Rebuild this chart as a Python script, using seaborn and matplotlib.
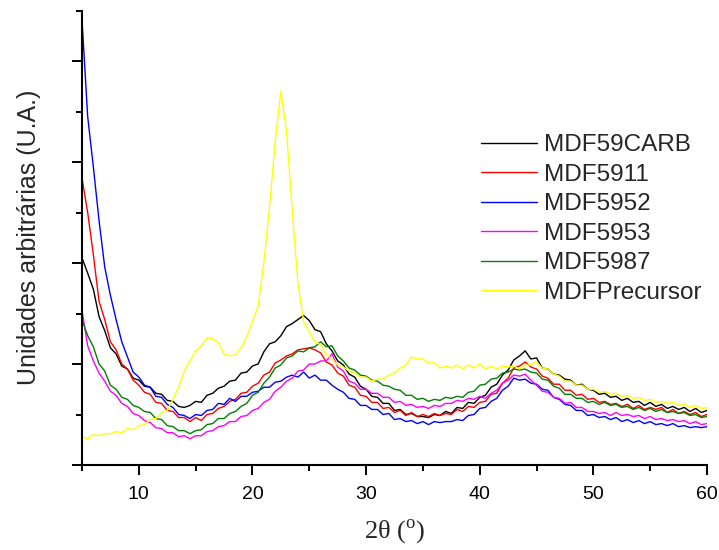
import numpy as np
import pandas as pd
import matplotlib
matplotlib.use("Agg")
import matplotlib.pyplot as plt
import seaborn as sns
from matplotlib.ticker import MultipleLocator, NullFormatter

# ---- data (0.5 degree sampling) ----
two_theta = np.arange(5.0, 60.01, 0.5)

mdf59carb = [2.05, 1.90, 1.74, 1.47, 1.33, 1.16, 1.10, 0.98, 0.95, 0.86,
             0.84, 0.78, 0.77, 0.71, 0.70, 0.64, 0.63, 0.58, 0.57, 0.59,
             0.63, 0.62, 0.69, 0.71, 0.76, 0.78, 0.83, 0.84, 0.91, 0.92,
             0.98, 1.00, 1.12, 1.20, 1.22, 1.28, 1.37, 1.40, 1.44, 1.48,
             1.43, 1.34, 1.32, 1.20, 1.13, 1.03, 0.99, 0.90, 0.87, 0.78,
             0.75, 0.68, 0.67, 0.61, 0.61, 0.54, 0.55, 0.50, 0.51, 0.48,
             0.48, 0.47, 0.50, 0.49, 0.53, 0.51, 0.57, 0.56, 0.62, 0.61,
             0.67, 0.69, 0.77, 0.80, 0.89, 0.94, 1.04, 1.08, 1.13, 1.05,
             1.06, 0.96, 0.95, 0.90, 0.89, 0.85, 0.84, 0.79, 0.80, 0.75,
             0.74, 0.70, 0.71, 0.67, 0.68, 0.64, 0.66, 0.62, 0.63, 0.59,
             0.62, 0.58, 0.60, 0.56, 0.58, 0.55, 0.57, 0.53, 0.56, 0.52,
             0.54]

mdf5911 = [2.84, 2.50, 2.08, 1.62, 1.44, 1.22, 1.14, 1.00, 0.95, 0.84,
           0.79, 0.72, 0.70, 0.62, 0.61, 0.54, 0.53, 0.47, 0.47, 0.43,
           0.47, 0.44, 0.50, 0.51, 0.56, 0.58, 0.63, 0.65, 0.71, 0.72,
           0.78, 0.81, 0.89, 0.92, 1.01, 1.04, 1.08, 1.10, 1.14, 1.15,
           1.16, 1.14, 1.11, 1.02, 0.99, 0.91, 0.88, 0.79, 0.77, 0.69,
           0.68, 0.62, 0.62, 0.56, 0.57, 0.52, 0.54, 0.49, 0.52, 0.48,
           0.50, 0.48, 0.51, 0.49, 0.51, 0.50, 0.55, 0.53, 0.58, 0.57,
           0.62, 0.63, 0.70, 0.71, 0.81, 0.86, 0.96, 0.98, 1.02, 0.97,
           0.95, 0.88, 0.86, 0.80, 0.80, 0.74, 0.74, 0.69, 0.70, 0.65,
           0.66, 0.62, 0.63, 0.60, 0.61, 0.58, 0.60, 0.56, 0.59, 0.55,
           0.57, 0.55, 0.57, 0.52, 0.55, 0.51, 0.53, 0.50, 0.52, 0.48,
           0.50]

mdf5952 = [4.41, 3.45, 2.95, 2.42, 1.96, 1.68, 1.44, 1.22, 1.07, 0.92,
           0.87, 0.79, 0.77, 0.68, 0.67, 0.60, 0.57, 0.50, 0.49, 0.46,
           0.50, 0.49, 0.54, 0.55, 0.61, 0.60, 0.66, 0.63, 0.68, 0.68,
           0.72, 0.73, 0.77, 0.77, 0.82, 0.83, 0.87, 0.89, 0.87, 0.92,
           0.86, 0.89, 0.84, 0.84, 0.79, 0.75, 0.72, 0.66, 0.65, 0.59,
           0.59, 0.55, 0.55, 0.50, 0.51, 0.45, 0.46, 0.43, 0.44, 0.41,
           0.43, 0.40, 0.43, 0.42, 0.43, 0.43, 0.45, 0.44, 0.49, 0.50,
           0.56, 0.57, 0.63, 0.66, 0.74, 0.78, 0.86, 0.84, 0.85, 0.81,
           0.80, 0.75, 0.74, 0.67, 0.65, 0.60, 0.59, 0.54, 0.54, 0.49,
           0.50, 0.47, 0.48, 0.45, 0.47, 0.43, 0.45, 0.42, 0.44, 0.41,
           0.43, 0.40, 0.41, 0.39, 0.41, 0.38, 0.39, 0.37, 0.38, 0.37,
           0.38]

mdf5953 = [1.53, 1.18, 1.03, 0.91, 0.83, 0.73, 0.69, 0.61, 0.58, 0.51,
           0.49, 0.44, 0.42, 0.37, 0.36, 0.32, 0.32, 0.28, 0.29, 0.26,
           0.29, 0.29, 0.33, 0.34, 0.38, 0.39, 0.43, 0.43, 0.48, 0.49,
           0.54, 0.56, 0.62, 0.65, 0.73, 0.77, 0.83, 0.86, 0.93, 0.94,
           1.00, 1.00, 1.03, 1.03, 1.10, 0.97, 0.93, 0.83, 0.81, 0.75,
           0.75, 0.71, 0.71, 0.67, 0.67, 0.62, 0.63, 0.59, 0.60, 0.57,
           0.58, 0.56, 0.59, 0.58, 0.61, 0.61, 0.64, 0.63, 0.66, 0.65,
           0.68, 0.66, 0.71, 0.74, 0.81, 0.84, 0.89, 0.88, 0.90, 0.84,
           0.79, 0.73, 0.72, 0.67, 0.66, 0.61, 0.62, 0.57, 0.57, 0.53,
           0.53, 0.51, 0.52, 0.49, 0.52, 0.49, 0.50, 0.48, 0.49, 0.46,
           0.48, 0.45, 0.46, 0.44, 0.45, 0.43, 0.44, 0.41, 0.43, 0.40,
           0.41]

mdf5987 = [1.44, 1.28, 1.17, 1.00, 0.93, 0.79, 0.75, 0.67, 0.65, 0.59,
           0.57, 0.53, 0.52, 0.46, 0.45, 0.39, 0.38, 0.34, 0.34, 0.31,
           0.34, 0.35, 0.40, 0.41, 0.46, 0.46, 0.51, 0.53, 0.58, 0.61,
           0.69, 0.72, 0.81, 0.87, 0.96, 0.99, 1.06, 1.08, 1.13, 1.12,
           1.16, 1.17, 1.22, 1.17, 1.18, 1.08, 1.03, 0.96, 0.94, 0.89,
           0.88, 0.84, 0.83, 0.79, 0.78, 0.75, 0.74, 0.69, 0.69, 0.65,
           0.66, 0.63, 0.65, 0.64, 0.67, 0.66, 0.68, 0.67, 0.72, 0.73,
           0.79, 0.80, 0.85, 0.86, 0.91, 0.92, 0.95, 0.94, 0.95, 0.92,
           0.91, 0.85, 0.84, 0.78, 0.76, 0.70, 0.70, 0.66, 0.66, 0.62,
           0.63, 0.60, 0.62, 0.59, 0.60, 0.57, 0.58, 0.55, 0.57, 0.54,
           0.56, 0.53, 0.55, 0.52, 0.53, 0.51, 0.52, 0.49, 0.50, 0.47,
           0.48]

mdf_precursor = [0.28, 0.26, 0.30, 0.29, 0.31, 0.31, 0.33, 0.32, 0.36, 0.35,
                 0.39, 0.40, 0.45, 0.46, 0.52, 0.54, 0.65, 0.77, 0.93, 1.03,
                 1.13, 1.18, 1.26, 1.25, 1.21, 1.10, 1.08, 1.09, 1.16, 1.27,
                 1.42, 1.57, 2.00, 2.55, 3.20, 3.70, 3.30, 2.52, 1.80, 1.42,
                 1.32, 1.22, 1.19, 1.09, 1.05, 0.99, 0.97, 0.93, 0.91, 0.87,
                 0.87, 0.83, 0.85, 0.85, 0.89, 0.91, 0.96, 0.99, 1.07, 1.05,
                 1.05, 1.01, 1.01, 0.96, 0.98, 0.96, 0.99, 0.95, 0.99, 0.96,
                 1.00, 0.95, 0.98, 0.95, 0.98, 0.97, 0.98, 0.95, 0.99, 0.99,
                 1.02, 0.96, 0.95, 0.90, 0.88, 0.83, 0.83, 0.79, 0.79, 0.75,
                 0.75, 0.72, 0.73, 0.70, 0.71, 0.68, 0.69, 0.66, 0.67, 0.64,
                 0.65, 0.62, 0.63, 0.61, 0.62, 0.59, 0.60, 0.57, 0.59, 0.56,
                 0.57]

series_names = ["MDF59CARB", "MDF5911", "MDF5952", "MDF5953", "MDF5987", "MDFPrecursor"]
series_values = [mdf59carb, mdf5911, mdf5952, mdf5953, mdf5987, mdf_precursor]
series_colors = ["#000000", "#FF0000", "#0000FF", "#FF00FF", "#008000", "#FFFF00"]

x_ticks = [10, 20, 30, 40, 50, 60]

# ---- build long-form table ----
frames = []
for name, vals in zip(series_names, series_values):
    frames.append(pd.DataFrame({"two_theta": two_theta, "intensity": vals, "amostra": name}))
df = pd.concat(frames, ignore_index=True)

sns.set_style("ticks")
plt.rcParams["font.family"] = ["Liberation Sans", "DejaVu Sans"]
plt.rcParams["mathtext.fontset"] = "custom"
plt.rcParams["mathtext.rm"] = "Liberation Serif"

fig = plt.figure(figsize=(7.19, 5.5), dpi=100)
ax = fig.add_axes([82 / 719, 85 / 550, 625 / 719, 454.5 / 550])

sns.lineplot(data=df, x="two_theta", y="intensity", hue="amostra",
             hue_order=series_names, palette=dict(zip(series_names, series_colors)),
             linewidth=1.0, ax=ax, legend=True)

ax.set_xlim(5, 60)
ax.set_ylim(0, 4.5)
ax.set_xticks(x_ticks)
ax.xaxis.set_minor_locator(MultipleLocator(5))
ax.yaxis.set_major_locator(MultipleLocator(1))
ax.yaxis.set_minor_locator(MultipleLocator(0.5))
ax.yaxis.set_major_formatter(NullFormatter())

for s in ["top", "right"]:
    ax.spines[s].set_visible(False)
for s in ["left", "bottom"]:
    ax.spines[s].set_linewidth(1.5)
    ax.spines[s].set_color("black")

ax.tick_params(axis="both", which="major", direction="out", length=7, width=1.4,
               colors="black", labelsize=14)
ax.tick_params(axis="both", which="minor", direction="out", length=4.5, width=1.4,
               colors="black")
ax.tick_params(axis="x", pad=8)

ax.set_xlabel(r"2θ ($^{\rm o}$)", fontsize=19, family="Liberation Serif", labelpad=10)
ax.set_ylabel("Unidades arbitrárias (U.A.)", fontsize=18, labelpad=19)

handles, labels = ax.get_legend_handles_labels()
ax.legend(handles, labels, loc="upper left", bbox_to_anchor=(0.638, 0.728),
          frameon=False, fontsize=17.5, handlelength=2.3, handletextpad=0.3,
          labelspacing=0.31, borderpad=0, borderaxespad=0)

fig.savefig("out.png", dpi=100)
